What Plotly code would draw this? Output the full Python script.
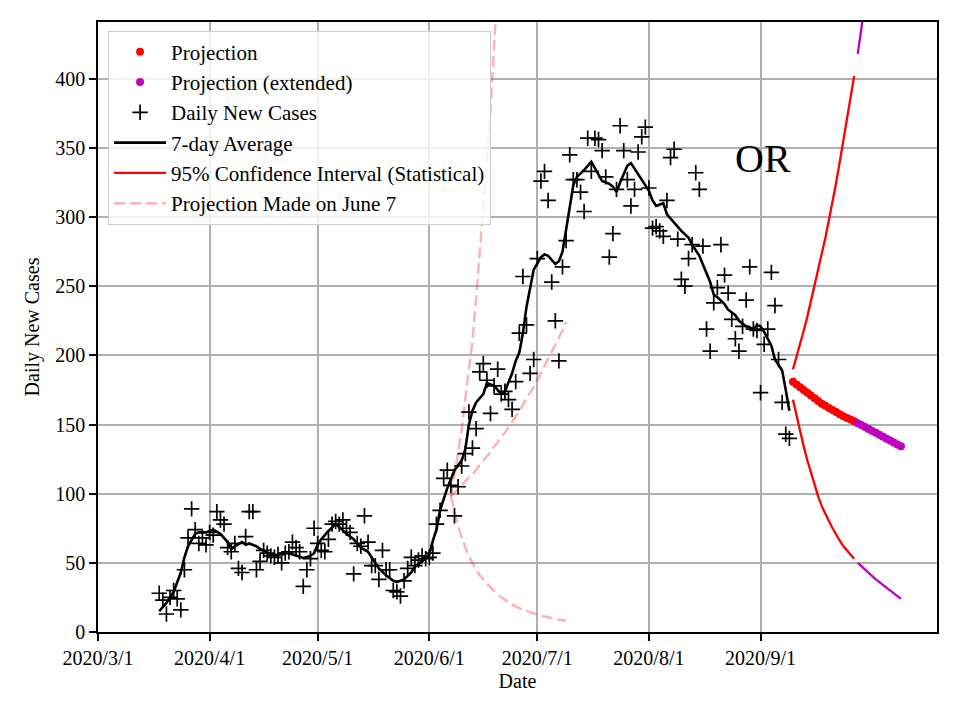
import pandas as pd
import plotly.graph_objects as go

# ---------------- data ----------------
case_start = "2020-03-18"
daily_cases = [
    28, 23, 13, 25, 30, 24, 16, 45, 68, 89, 74, 64, 68, 63, 72, 70, 87, 81, 78, 61,
    58, 64, 46, 43, 69, 87, 87, 45, 51, 59, 57, 55, 54, 56, 50, 57, 58, 65, 61, 58,
    33, 45, 53, 75, 64, 59, 58, 67, 78, 80, 78, 81, 75, 72, 42, 64, 62, 84, 65, 48,
    48, 38, 59, 45, 45, 30, 29, 26, 37, 46, 54, 48, 52, 55, 53, 54, 57, 78, 88, 111,
    117, 106, 84, 105, 120, 129, 159, 133, 147, 188, 194, 182, 158, 178, 190, 172, 174, 168, 161, 181,
    216, 257, 222, 187, 197, 270, 326, 333, 312, 253, 225, 196, 264, 283, 345, 327, 327, 318, 304, 357,
    333, 357, 356, 348, 329, 271, 288, 320, 366, 348, 327, 308, 320, 347, 358, 365, 321, 292, 293, 290,
    286, 312, 343, 349, 284, 255, 250, 270, 280, 332, 320, 279, 219, 203, 238, 249, 280, 258, 245, 226,
    212, 203, 221, 240, 264, 219, 218, 173, 208, 219, 260, 236, 197, 166, 143, 140,
]

avg_dates = [
    "2020-03-18", "2020-03-20", "2020-03-22", "2020-03-24", "2020-03-25", "2020-03-26", "2020-03-28",
    "2020-03-29", "2020-03-31", "2020-04-01", "2020-04-02", "2020-04-04", "2020-04-06", "2020-04-07",
    "2020-04-08", "2020-04-10", "2020-04-11", "2020-04-12", "2020-04-14", "2020-04-15", "2020-04-17",
    "2020-04-18", "2020-04-20", "2020-04-21", "2020-04-23", "2020-04-25", "2020-04-27", "2020-04-29",
    "2020-04-30", "2020-05-01", "2020-05-02", "2020-05-04", "2020-05-06", "2020-05-07", "2020-05-09",
    "2020-05-11", "2020-05-13", "2020-05-15", "2020-05-16", "2020-05-18", "2020-05-20", "2020-05-22",
    "2020-05-23", "2020-05-25", "2020-05-27", "2020-05-28", "2020-05-30", "2020-06-01", "2020-06-02",
    "2020-06-03", "2020-06-04", "2020-06-06", "2020-06-08", "2020-06-10", "2020-06-11", "2020-06-12",
    "2020-06-13", "2020-06-14", "2020-06-16", "2020-06-17", "2020-06-19", "2020-06-21", "2020-06-22",
    "2020-06-24", "2020-06-25", "2020-06-26", "2020-06-27", "2020-06-28", "2020-06-30", "2020-07-02",
    "2020-07-03", "2020-07-04", "2020-07-06", "2020-07-07", "2020-07-08", "2020-07-09", "2020-07-10",
    "2020-07-11", "2020-07-12", "2020-07-14", "2020-07-16", "2020-07-18", "2020-07-19", "2020-07-21",
    "2020-07-22", "2020-07-23", "2020-07-24", "2020-07-26", "2020-07-27", "2020-07-29", "2020-07-30",
    "2020-08-01", "2020-08-02", "2020-08-03", "2020-08-05", "2020-08-06", "2020-08-08", "2020-08-10",
    "2020-08-12", "2020-08-13", "2020-08-15", "2020-08-17", "2020-08-18", "2020-08-19", "2020-08-20",
    "2020-08-22", "2020-08-23", "2020-08-25", "2020-08-26", "2020-08-28", "2020-08-30", "2020-08-31",
    "2020-09-01", "2020-09-02", "2020-09-04", "2020-09-05", "2020-09-07", "2020-09-08", "2020-09-09",
]
avg_values = [
    15, 21, 29, 43, 54, 62, 71, 72, 72, 73, 74, 71, 65, 60, 62, 65, 63, 64, 62, 60, 57,
    56, 55.5, 57, 57, 55.5, 53.5, 55, 57, 63, 67, 73, 78, 76, 71, 67, 61, 58, 54, 46, 41, 37,
    36, 38, 43, 47, 51, 56, 66, 74, 88, 104, 117, 124, 132, 150, 160, 166, 172, 180, 178, 172,
    174, 187, 196, 202, 216, 235, 262, 271, 273, 272, 266, 268, 275, 290, 308, 323, 329, 334,
    340, 331, 326, 324, 322, 318, 325, 337, 339, 331, 327, 319, 312, 308, 310, 302, 296, 290,
    285, 280, 272, 260, 253, 244, 242, 237, 233, 229, 225, 221, 219, 222, 221, 217, 207, 197,
    189, 175, 160,
]

proj_start = "2020-09-10"
proj_values = [181, 179, 177, 175, 173, 171, 169, 167, 165, 163.5, 162, 160.5, 159, 157.5, 156, 154.8, 153.6, 152.4]
ci_upper = [190, 199, 208, 218, 228, 239, 250, 261, 273, 285, 298, 311, 325, 340, 355, 370, 386, 402]
ci_lower = [168, 156, 145, 134, 124, 115, 106, 98, 91, 85, 80, 75, 70, 66, 62, 59, 56, 53]

ext_start = "2020-09-28"
ext_values = [151, 149.6, 148.2, 146.8, 145.4, 144, 142.6, 141.2, 139.8, 138.4, 137, 135.6, 134.2]
ext_upper = [418, 435, 452, 470, 488, 507, 527, 547, 568, 590, 612, 635, 659]
ext_lower = [50, 47.5, 45, 42.5, 40, 38, 36, 34, 32, 30, 28, 26, 24]

june_start = "2020-06-07"
june_mid = [98, 101, 103, 106, 109, 112, 114, 117, 121, 124, 127, 130, 134, 137, 141, 144, 148,
            152, 156, 160, 164, 169, 173, 177, 182, 187, 192, 197, 202, 207, 213, 218, 224]
june_lower = [98, 87, 77, 68, 61, 55, 50, 45, 41, 38, 35, 32, 29.5, 27, 25, 23, 21.5, 20, 18.5,
              17.3, 16.2, 15.2, 14.3, 13.4, 12.6, 11.9, 11.2, 10.6, 10, 9.5, 9, 8.6, 8.2]
june_upper = [98, 113, 129, 147, 167, 188, 211, 241, 272, 305, 340, 378, 420, 466, 515]

tick_dates = ["2020-03-01", "2020-04-01", "2020-05-01", "2020-06-01", "2020-07-01", "2020-08-01", "2020-09-01"]
tick_labels = ["2020/3/1", "2020/4/1", "2020/5/1", "2020/6/1", "2020/7/1", "2020/8/1", "2020/9/1"]
y_ticks = [0, 50, 100, 150, 200, 250, 300, 350, 400]

# ---------------- derived dates ----------------
case_dates = pd.date_range(case_start, periods=len(daily_cases))
proj_dates = pd.date_range(proj_start, periods=len(proj_values))
ext_dates = pd.date_range(ext_start, periods=len(ext_values))
june_dates = pd.date_range(june_start, periods=len(june_mid))

RED = "#ff0000"
MAG = "#bf00bf"
PINK = "rgba(255,0,0,0.3)"
FONT = "Liberation Serif"

fig = go.Figure()

# Projection made on June 7 (pink dashed)
dash = "11px,5px"
fig.add_trace(go.Scatter(x=june_dates[:len(june_upper)], y=june_upper, mode="lines",
                         line=dict(color=PINK, width=2.5, dash=dash),
                         name="Projection Made on June 7", legendrank=6))
fig.add_trace(go.Scatter(x=june_dates, y=june_mid, mode="lines",
                         line=dict(color=PINK, width=2.5, dash=dash), showlegend=False))
fig.add_trace(go.Scatter(x=june_dates, y=june_lower, mode="lines",
                         line=dict(color=PINK, width=2.5, dash=dash), showlegend=False))

# Daily cases
fig.add_trace(go.Scatter(x=case_dates, y=daily_cases, mode="markers",
                         marker=dict(symbol="cross-thin", size=11, color="black",
                                     line=dict(color="black", width=1.7)),
                         name="Daily New Cases", legendrank=3))
# 7-day average
fig.add_trace(go.Scatter(x=pd.to_datetime(avg_dates), y=avg_values, mode="lines",
                         line=dict(color="black", width=2.6),
                         name="7-day Average", legendrank=4))

# Confidence interval
fig.add_trace(go.Scatter(x=proj_dates, y=ci_upper, mode="lines", line=dict(color=RED, width=2.3),
                         name="95% Confidence Interval (Statistical)", legendrank=5))
fig.add_trace(go.Scatter(x=proj_dates, y=ci_lower, mode="lines", line=dict(color=RED, width=2.3),
                         showlegend=False))
fig.add_trace(go.Scatter(x=ext_dates, y=ext_upper, mode="lines", line=dict(color=MAG, width=2.3),
                         showlegend=False))
fig.add_trace(go.Scatter(x=ext_dates, y=ext_lower, mode="lines", line=dict(color=MAG, width=2.3),
                         showlegend=False))

# Projection points
fig.add_trace(go.Scatter(x=proj_dates, y=proj_values, mode="markers",
                         marker=dict(symbol="circle", size=8, color=RED),
                         name="Projection", legendrank=1))
fig.add_trace(go.Scatter(x=ext_dates, y=ext_values, mode="markers",
                         marker=dict(symbol="circle", size=8, color=MAG),
                         name="Projection (extended)", legendrank=2))

fig.add_annotation(x="2020-09-01 16:00", y=342, text="OR", showarrow=False,
                   font=dict(family=FONT, size=40, color="black"), xanchor="center", yanchor="middle")

axis_common = dict(showline=True, linecolor="black", linewidth=1.6, mirror=True,
                   showgrid=True, gridcolor="#b0b0b0", gridwidth=1.6,
                   ticks="outside", ticklen=7, tickwidth=1.6, tickcolor="black",
                   tickfont=dict(family=FONT, size=20, color="black"), zeroline=False)

# The page adds an 8px body margin, so the figure is sized 952x712 and placed accordingly.
fig.update_layout(
    width=952, height=712,
    margin=dict(l=90, r=23, t=12, b=88),
    paper_bgcolor="white", plot_bgcolor="white",
    font=dict(family=FONT, size=20, color="black"),
    xaxis=dict(range=["2020-03-01", "2020-10-20"], tickvals=tick_dates, ticktext=tick_labels,
               title=dict(text="Date", font=dict(family=FONT, size=20), standoff=6), **axis_common),
    yaxis=dict(range=[0, 441], tickvals=y_ticks,
               title=dict(text="Daily New Cases", font=dict(family=FONT, size=20), standoff=10), **axis_common),
    legend=dict(x=0.012, y=0.986, xanchor="left", yanchor="top",
                bgcolor="rgba(255,255,255,0.8)", bordercolor="#cccccc", borderwidth=1,
                font=dict(family=FONT, size=21, color="black"), itemwidth=52,
                traceorder="normal"),
    showlegend=True,
)

fig.write_html("out.html")
